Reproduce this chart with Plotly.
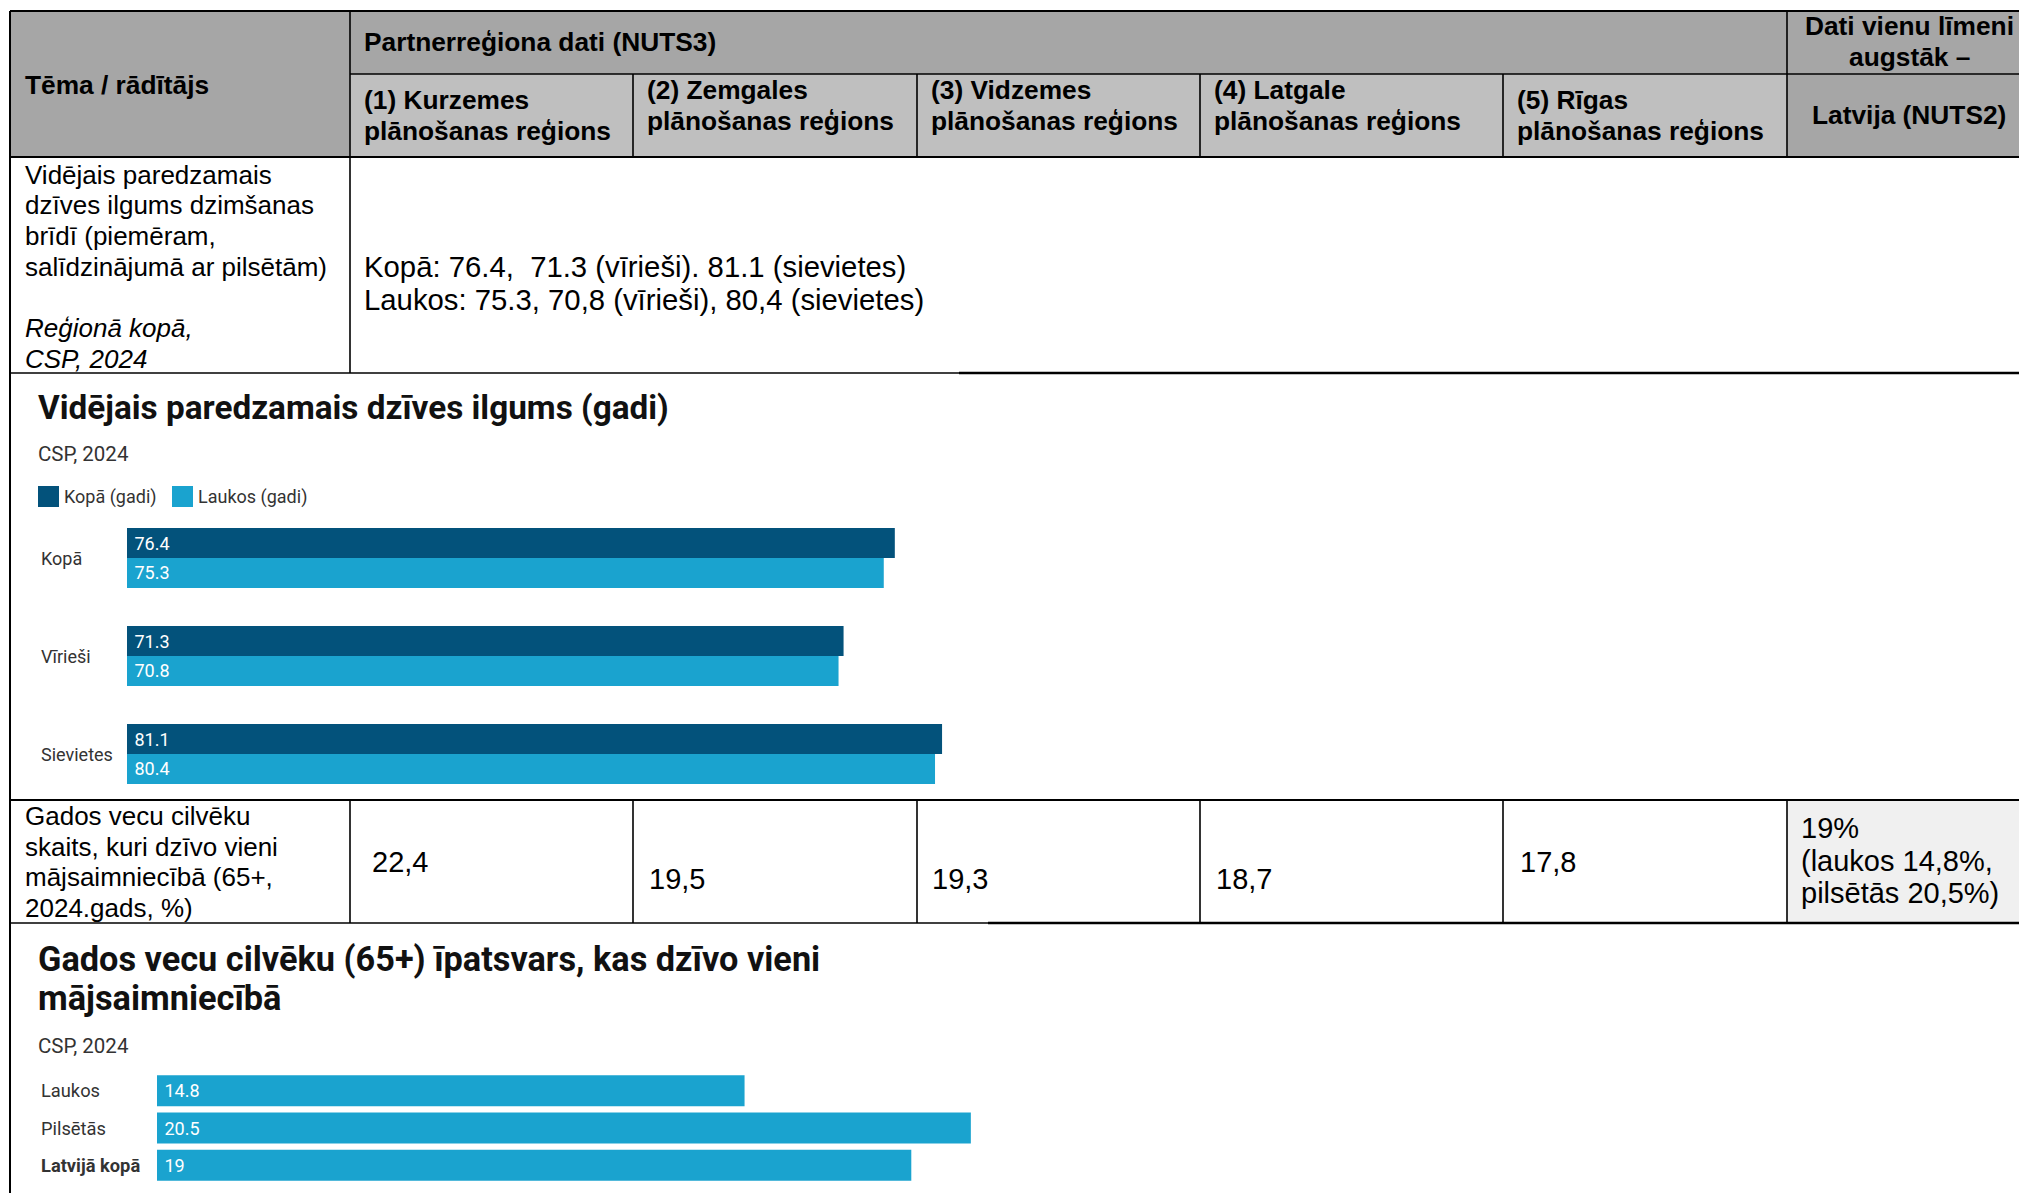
import plotly.graph_objects as go

W, H = 2019, 1193

# ---------------- data ----------------
life_categories = ["Kopā", "Vīrieši", "Sievietes"]
life_total = [76.4, 71.3, 81.1]
life_rural = [75.3, 70.8, 80.4]
life_series = ["Kopā (gadi)", "Laukos (gadi)"]
life_title = "Vidējais paredzamais dzīves ilgums (gadi)"
life_source = "CSP, 2024"

alone_categories = ["Laukos", "Pilsētās", "Latvijā kopā"]
alone_values = [14.8, 20.5, 19]
alone_title = ["Gados vecu cilvēku (65+) īpatsvars, kas dzīvo vieni", "mājsaimniecībā"]
alone_source = "CSP, 2024"

head_col1 = "Tēma / rādītājs"
head_group = "Partnerreģiona dati (NUTS3)"
head_upper = ["Dati vienu līmeni", "augstāk –"]
head_latvia = "Latvija (NUTS2)"
region_headers = [
    ["(1) Kurzemes", "plānošanas reģions"],
    ["(2) Zemgales", "plānošanas reģions"],
    ["(3) Vidzemes", "plānošanas reģions"],
    ["(4) Latgale", "plānošanas reģions"],
    ["(5) Rīgas", "plānošanas reģions"],
]
row1_label = ["Vidējais paredzamais", "dzīves ilgums dzimšanas", "brīdī (piemēram,",
              "salīdzinājumā ar pilsētām)", "", "Reģionā kopā,", "CSP, 2024"]
row1_value = ["Kopā: 76.4,  71.3 (vīrieši). 81.1 (sievietes)",
              "Laukos: 75.3, 70,8 (vīrieši), 80,4 (sievietes)"]
row2_label = ["Gados vecu cilvēku", "skaits, kuri dzīvo vieni", "mājsaimniecībā (65+,", "2024.gads, %)"]
row2_values = ["22,4", "19,5", "19,3", "18,7", "17,8"]
row2_latvia = ["19%", "(laukos 14,8%,", "pilsētās 20,5%)"]

# ---------------- styles ----------------
TF = "Liberation Sans, Arial, sans-serif"
CF = "Roboto, sans-serif"
DARK = "#03527b"
LIGHT = "#1aa3cf"
HEAD1 = "#a6a6a6"
HEAD2 = "#bfbfbf"


def X(p):
    return p / W


def Y(p):
    return 1 - p / H


annotations = []
shapes = []


def txt(x, y, s, size, family=TF, color="#000", xanchor="left", bold=False, italic=False):
    if bold:
        s = "<b>" + s + "</b>"
    if italic:
        s = "<i>" + s + "</i>"
    annotations.append(dict(x=X(x), y=Y(y), xref="paper", yref="paper", text=s,
                            showarrow=False, xanchor=xanchor, yanchor="middle",
                            borderpad=0, borderwidth=0,
                            font=dict(size=size, family=family, color=color)))


def rect(x0, y0, x1, y1, fill, layer="below"):
    shapes.append(dict(type="rect", xref="paper", yref="paper", x0=X(x0), x1=X(x1),
                       y0=Y(y1), y1=Y(y0), fillcolor=fill, line=dict(width=0), layer=layer))


def hline(y, x0, x1, w=1.6):
    shapes.append(dict(type="line", xref="paper", yref="paper", x0=X(x0), x1=X(x1),
                       y0=Y(y), y1=Y(y), line=dict(color="#000", width=w)))


def vline(x, y0, y1, w=1.6):
    shapes.append(dict(type="line", xref="paper", yref="paper", x0=X(x), x1=X(x),
                       y0=Y(y0), y1=Y(y1), line=dict(color="#000", width=w)))


# column borders
C = [10, 350, 633, 917, 1200, 1503, 1787, W]

# ---------------- header ----------------
rect(10, 11, 350, 157, HEAD1)
rect(350, 11, W, 74, HEAD1)
rect(350, 74, 1787, 157, HEAD2)
rect(1787, 74, W, 157, HEAD1)
rect(1787, 800, W, 923, "#f0f0f0")

hline(11, 10, W, 2)
vline(10, 11, H, 2)
hline(74, 350, W)
hline(157, 10, W, 2)
vline(350, 11, 373)
vline(1787, 11, 157)
for cx in C[2:6]:
    vline(cx, 74, 157)
hline(373, 10, 959, 1.3)
hline(373, 959, W, 2.6)
hline(800, 10, W, 2)
for cx in C[1:7]:
    vline(cx, 800, 923)
hline(923, 10, 988, 1.3)
hline(923, 988, W, 2.6)

txt(25, 85, head_col1, 26.3, bold=True)
txt(364, 42, head_group, 26.3, bold=True)
txt(1909, 26.5, head_upper[0], 26.3, bold=True, xanchor="center")
txt(1909, 57, head_upper[1], 26.3, bold=True, xanchor="center")
txt(1909, 115, head_latvia, 26.3, bold=True, xanchor="center")
sub_y = [(100, 131), (90, 121), (90, 121), (90, 121), (100, 131)]
for i, (lines, (ya, yb)) in enumerate(zip(region_headers, sub_y)):
    x0 = C[i + 1] + 14
    txt(x0, ya, lines[0], 26.3, bold=True)
    txt(x0, yb, lines[1], 26.3, bold=True)

# ---------------- row 1 ----------------
for i, line in enumerate(row1_label):
    if line:
        txt(25, 174.5 + 30.7 * i, line, 26, italic=(i >= 5))
txt(364, 267, row1_value[0], 29.3)
txt(364, 300, row1_value[1], 29.3)

# ---------------- row 2 ----------------
for i, line in enumerate(row2_label):
    txt(25, 816 + 30.6 * i, line, 26)
val_pos = [(372, 862), (649, 879), (932, 879), (1216, 879), (1520, 862)]
for v, (vx, vy) in zip(row2_values, val_pos):
    txt(vx, vy, v, 29)
for i, line in enumerate(row2_latvia):
    txt(1801, 828 + 32.5 * i, line, 29)

# ---------------- chart 1 ----------------
txt(38, 407, "<b>" + life_title + "</b>", 33.3, family=CF, color="#111")
txt(38, 454, life_source, 20.5, family=CF, color="#333")
leg = [(38, DARK, life_series[0]), (172, LIGHT, life_series[1])]
for lx, col, name in leg:
    rect(lx, 486, lx + 21, 507, col, layer="above")
    txt(lx + 26, 497, name, 18, family=CF, color="#333")
for cat in life_categories:
    annotations.append(dict(x=X(39), y=cat, xref="paper", yref="y", text=cat,
                            showarrow=False, xanchor="left", yanchor="middle",
                            font=dict(size=18, family=CF, color="#333")))

# ---------------- chart 2 ----------------
txt(38, 959, "<b>" + alone_title[0] + "</b>", 34.3, family=CF, color="#111")
txt(38, 998, "<b>" + alone_title[1] + "</b>", 34.3, family=CF, color="#111")
txt(38, 1046, alone_source, 20.5, family=CF, color="#333")
for cat in alone_categories:
    label = "<b>" + cat + "</b>" if cat == "Latvijā kopā" else cat
    annotations.append(dict(x=X(39), y=cat, xref="paper", yref="y2", text=label,
                            showarrow=False, xanchor="left", yanchor="middle",
                            font=dict(size=18.3, family=CF, color="#333")))

bar_text = dict(texttemplate="\u00a0%{x}", textposition="inside", insidetextanchor="start",
                textangle=0, constraintext="none",
                textfont=dict(color="white", size=18, family=CF),
                hoverinfo="skip", showlegend=False, cliponaxis=False)

fig = go.Figure()
fig.add_trace(go.Bar(y=life_categories, x=life_total, orientation="h", name=life_series[0],
                     marker=dict(color=DARK, line=dict(width=0)), width=0.306, offset=-0.306,
                     xaxis="x", yaxis="y", **bar_text))
fig.add_trace(go.Bar(y=life_categories, x=life_rural, orientation="h", name=life_series[1],
                     marker=dict(color=LIGHT, line=dict(width=0)), width=0.306, offset=0,
                     xaxis="x", yaxis="y", **bar_text))
fig.add_trace(go.Bar(y=alone_categories, x=alone_values, orientation="h", name="Īpatsvars",
                     marker=dict(color=LIGHT, line=dict(width=0)), width=0.83, offset=-0.415,
                     xaxis="x2", yaxis="y2", **bar_text))

ax = dict(visible=False, showgrid=False, zeroline=False, fixedrange=True)
fig.update_layout(
    width=W, height=H, margin=dict(l=0, r=0, t=0, b=0),
    paper_bgcolor="white", plot_bgcolor="rgba(0,0,0,0)",
    barmode="overlay", showlegend=False,
    xaxis=dict(domain=[X(127), X(127 + 1005)], range=[0, 100], anchor="y", **ax),
    yaxis=dict(domain=[Y(803), Y(509)], range=[2.5, -0.5], type="category", anchor="x", **ax),
    xaxis2=dict(domain=[X(157), X(157 + 992.5)], range=[0, 25], anchor="y2", **ax),
    yaxis2=dict(domain=[Y(1184), Y(1072)], range=[2.5, -0.5], type="category", anchor="x2", **ax),
    annotations=annotations, shapes=shapes,
)

fig.write_html("out.html", config={"displayModeBar": False},
               post_script="document.body.style.margin='0';document.body.style.overflow='hidden';")
